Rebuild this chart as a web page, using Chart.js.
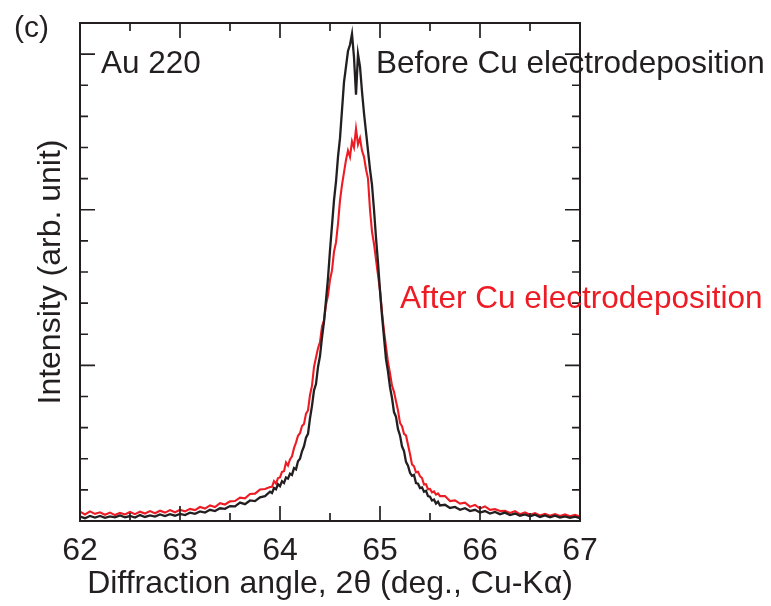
<!DOCTYPE html>
<html>
<head>
<meta charset="utf-8">
<script src="https://cdn.jsdelivr.net/npm/chart.js@4.4.1/dist/chart.umd.min.js"></script>
<style>
  html, body { margin: 0; padding: 0; background: #fff; }
  canvas { display: block; }
</style>
</head>
<body>
<canvas id="xrd" width="771" height="606"></canvas>
<script>
// 2theta (deg.) sampling
const angle = [
  62.00,62.05,62.10,62.15,62.20,62.25,62.30,62.35,62.40,62.45,
  62.50,62.55,62.60,62.65,62.70,62.75,62.80,62.85,62.90,62.95,
  63.00,63.05,63.10,63.15,63.20,63.25,63.30,63.35,63.40,63.45,
  63.50,63.55,63.60,63.65,63.70,63.75,63.80,63.85,
  63.90,63.92,63.94,63.96,63.98,64.00,64.02,64.04,64.06,64.08,
  64.10,64.12,64.14,64.16,64.18,64.20,64.22,64.24,64.26,64.28,
  64.30,64.32,64.34,64.36,64.38,64.40,64.42,64.44,64.46,64.48,
  64.50,64.52,64.54,64.56,64.58,64.60,64.62,64.64,64.66,64.68,
  64.70,64.72,64.74,64.76,64.78,64.80,64.82,64.84,64.86,64.88,
  64.90,64.92,64.94,64.96,64.98,65.00,65.02,65.04,65.06,65.08,
  65.10,65.12,65.14,65.16,65.18,65.20,65.22,65.24,65.26,65.28,
  65.30,65.32,65.34,65.36,65.38,65.40,65.42,65.44,65.46,65.48,
  65.50,65.52,65.54,65.56,65.58,65.60,
  65.65,65.70,65.75,65.80,65.85,65.90,65.95,66.00,66.05,66.10,
  66.15,66.20,66.25,66.30,66.35,66.40,66.45,66.50,66.55,66.60,
  66.65,66.70,66.75,66.80,66.85,66.90,66.95,67.00
];

// intensity before Cu electrodeposition (black)
const beforeCu = [
  0.14,0.09,0.16,0.11,0.16,0.10,0.15,0.12,0.18,0.12,
  0.16,0.11,0.19,0.13,0.18,0.14,0.21,0.16,0.22,0.17,
  0.23,0.19,0.27,0.23,0.31,0.27,0.36,0.32,0.41,0.39,
  0.48,0.47,0.59,0.54,0.66,0.64,0.76,0.80,
  0.94,0.90,1.06,1.02,1.18,1.12,1.28,1.22,1.40,1.36,
  1.52,1.48,1.70,1.66,1.92,2.00,2.24,2.40,2.68,2.80,
  3.3,3.7,4.2,4.4,4.95,5.3,5.9,6.4,7.1,7.8,
  8.7,9.5,10.3,10.9,11.7,12.3,13.2,14.1,14.6,15.1,
  15.3,15.65,14.9,13.7,15.0,14.6,13.8,13.1,12.5,11.9,
  11.3,10.8,10.0,9.1,8.3,7.4,6.6,5.9,5.2,4.8,
  4.3,3.95,3.5,3.35,2.95,2.75,2.4,2.25,1.9,1.78,
  1.55,1.45,1.48,1.22,1.20,1.06,1.08,0.94,0.97,0.80,
  0.78,0.66,0.69,0.56,0.62,0.50,
  0.52,0.42,0.45,0.36,0.41,0.32,0.36,0.27,0.32,0.24,
  0.29,0.22,0.27,0.19,0.24,0.17,0.21,0.15,0.20,0.13,
  0.18,0.12,0.17,0.11,0.15,0.10,0.14,0.09
];

// intensity after Cu electrodeposition (red)
const afterCu = [
  0.30,0.21,0.31,0.23,0.28,0.20,0.27,0.19,0.26,0.21,
  0.29,0.22,0.30,0.24,0.32,0.25,0.33,0.27,0.35,0.28,
  0.36,0.31,0.39,0.35,0.45,0.40,0.50,0.45,0.57,0.53,
  0.63,0.64,0.75,0.73,0.87,0.88,1.01,1.03,
  1.09,1.10,1.28,1.20,1.38,1.40,1.58,1.60,1.88,1.78,
  1.98,2.08,2.34,2.52,2.74,2.82,3.05,3.12,3.45,3.55,
  4.05,4.35,4.95,5.25,5.55,5.75,6.25,6.45,6.95,7.25,
  7.75,8.05,8.65,8.95,9.55,10.3,10.8,11.2,11.6,11.9,
  11.7,12.2,12.0,12.6,12.1,12.3,11.9,11.7,11.3,11.0,
  10.0,9.3,8.9,8.4,7.9,7.4,6.7,6.1,5.6,5.1,
  4.75,4.35,4.15,3.85,3.55,3.15,3.05,2.8,2.75,2.45,
  2.15,1.82,1.76,1.56,1.58,1.44,1.38,1.17,1.18,1.02,
  1.03,0.92,0.95,0.85,0.89,0.80,
  0.80,0.64,0.66,0.56,0.59,0.46,0.52,0.40,0.47,0.36,
  0.38,0.32,0.33,0.26,0.32,0.22,0.28,0.20,0.25,0.18,
  0.23,0.17,0.22,0.16,0.21,0.15,0.20,0.14
];

const xTickLabels = [62, 63, 64, 65, 66, 67];

const INK = '#231f20';
const RED = '#ed1c24';
const FONT = '"Liberation Sans", Arial, Helvetica, sans-serif';

// frame, inward ticks on all four sides, text labels
const framePlugin = {
  id: 'frame',
  afterDraw(chart) {
    const { ctx, chartArea: a, scales } = chart;
    const xs = scales.x, ys = scales.y;
    ctx.save();
    ctx.strokeStyle = INK;
    ctx.lineWidth = 2;
    ctx.strokeRect(a.left, a.top, a.right - a.left, a.bottom - a.top);

    ctx.lineWidth = 1.7;
    ctx.beginPath();
    for (let v = 62.5; v < 67; v += 0.5) {
      const px = xs.getPixelForValue(v);
      const len = Number.isInteger(v) ? 15 : 8;
      ctx.moveTo(px, a.bottom); ctx.lineTo(px, a.bottom - len);
      ctx.moveTo(px, a.top); ctx.lineTo(px, a.top + len);
    }
    for (let v = 1; v < 16; v++) {
      const py = ys.getPixelForValue(v);
      const len = v % 5 === 0 ? 15 : 8;
      ctx.moveTo(a.left, py); ctx.lineTo(a.left + len, py);
      ctx.moveTo(a.right, py); ctx.lineTo(a.right - len, py);
    }
    ctx.stroke();

    ctx.textBaseline = 'alphabetic';
    ctx.textAlign = 'left';
    ctx.fillStyle = INK;
    ctx.font = '30px ' + FONT;
    ctx.fillText('(c)', 14, 37);
    ctx.font = '31.5px ' + FONT;
    ctx.fillText('Au 220', 101, 73);
    ctx.fillText('Before Cu electrodeposition', 376, 73);
    ctx.fillStyle = RED;
    ctx.fillText('After Cu electrodeposition', 400, 308);
    ctx.restore();
  }
};

new Chart(document.getElementById('xrd'), {
  type: 'line',
  data: {
    datasets: [
      {
        label: 'Before Cu electrodeposition',
        data: angle.map((a, i) => ({ x: a, y: beforeCu[i] })),
        borderColor: INK,
        borderWidth: 2.3,
        pointRadius: 0,
        tension: 0
      },
      {
        label: 'After Cu electrodeposition',
        data: angle.map((a, i) => ({ x: a, y: afterCu[i] })),
        borderColor: RED,
        borderWidth: 2.1,
        pointRadius: 0,
        tension: 0
      }
    ]
  },
  options: {
    responsive: false,
    animation: false,
    layout: { padding: { left: 0, top: 23, right: 191, bottom: 0 } },
    plugins: { legend: { display: false }, tooltip: { enabled: false } },
    scales: {
      x: {
        type: 'linear',
        min: 62,
        max: 67,
        grid: { display: false, drawTicks: false },
        border: { display: false },
        afterBuildTicks: s => { s.ticks = xTickLabels.map(v => ({ value: v })); },
        afterFit: s => { s.height = 85; },
        ticks: {
          color: INK,
          padding: 11,
          maxRotation: 0,
          autoSkip: false,
          font: { family: FONT, size: 32 }
        },
        title: {
          display: true,
          text: 'Diffraction angle, 2\u03b8 (deg., Cu-K\u03b1)',
          color: INK,
          font: { family: FONT, size: 32 },
          padding: { top: 0, bottom: 3 }
        }
      },
      y: {
        type: 'linear',
        min: 0,
        max: 16,
        grid: { display: false, drawTicks: false },
        border: { display: false },
        ticks: { display: false },
        afterFit: s => { s.width = 80; },
        title: {
          display: true,
          text: 'Intensity (arb. unit)',
          color: INK,
          font: { family: FONT, size: 32 },
          padding: { top: 32, bottom: 0 }
        }
      }
    }
  },
  plugins: [framePlugin]
});
</script>
</body>
</html>
